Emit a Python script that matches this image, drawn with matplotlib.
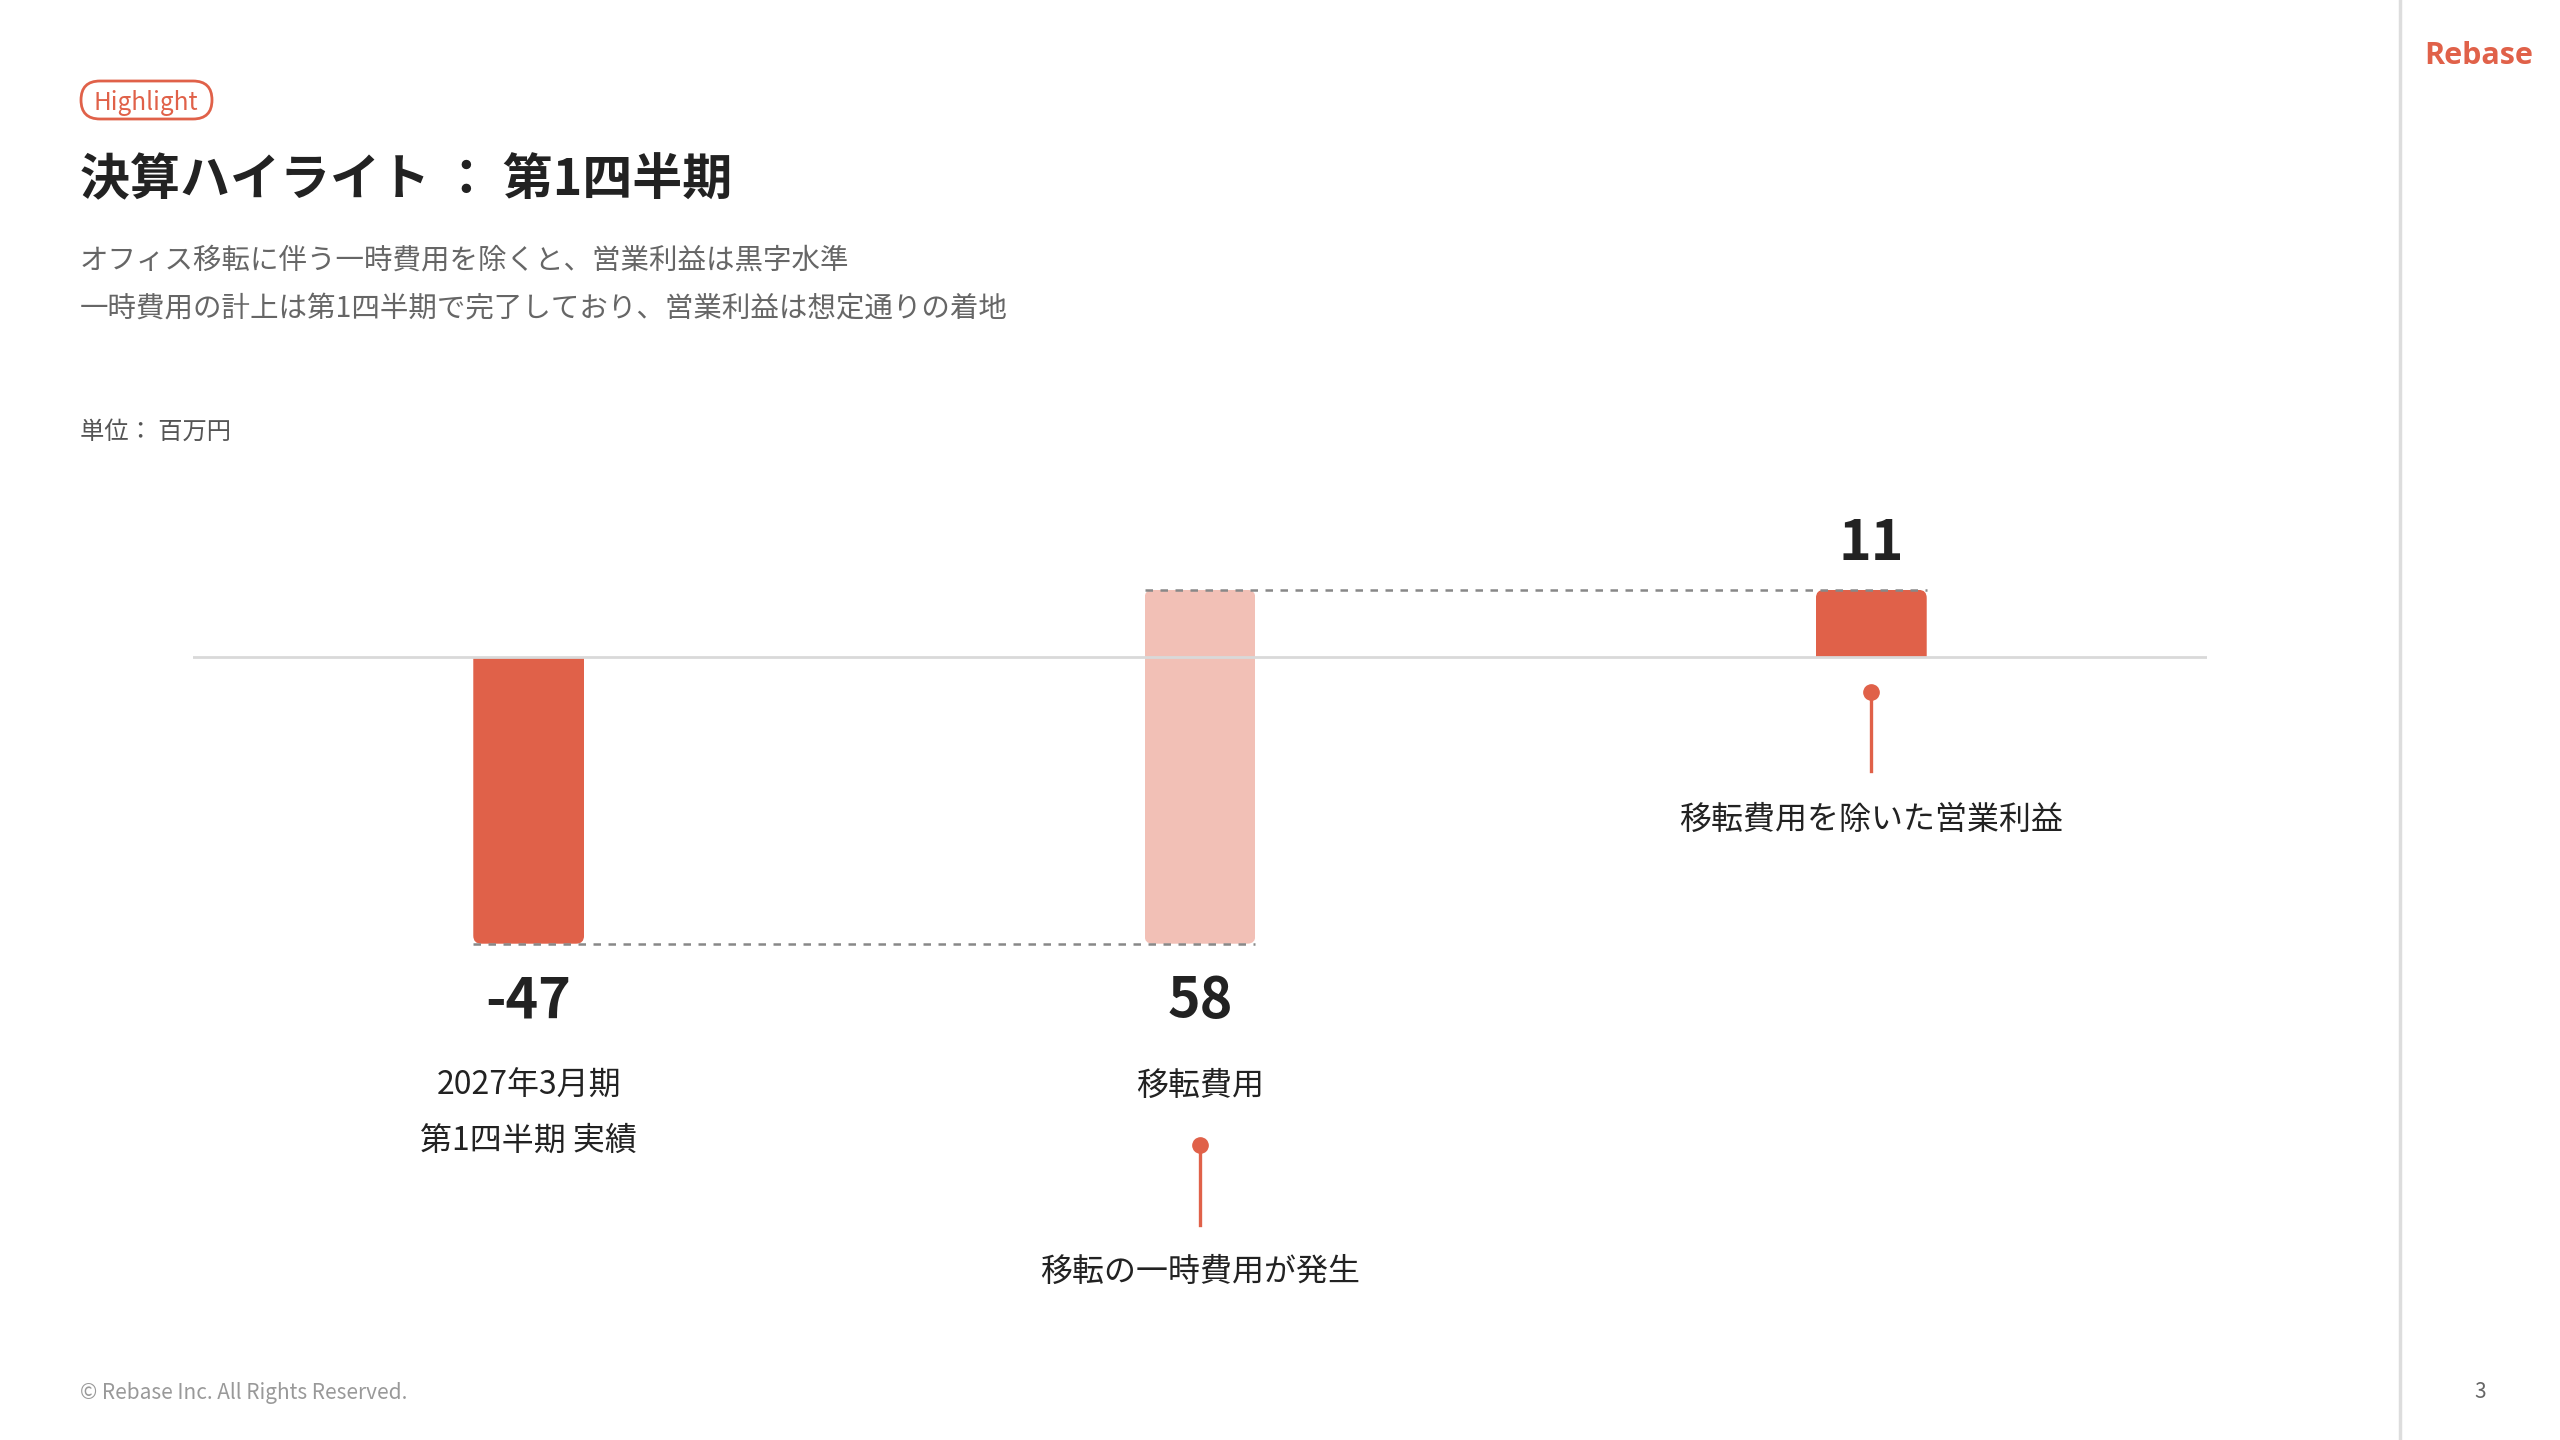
import matplotlib
matplotlib.use("Agg")
import matplotlib.pyplot as plt
from matplotlib.patches import FancyBboxPatch
from matplotlib.lines import Line2D
import matplotlib.transforms as mtransforms

plt.rcParams['font.family'] = ['Noto Sans CJK JP', 'DejaVu Sans']

# ---- data ----
categories = ["2027年3月期\n第1四半期 実績", "移転費用", "移転費用を除いた営業利益"]
values = [-47, 58, 11]
value_labels = ["-47", "58", "11"]
annotations = ["移転の一時費用が発生", "移転費用を除いた営業利益"]
title = "決算ハイライト ： 第1四半期"
subtitle_lines = ["オフィス移転に伴う一時費用を除くと、営業利益は黒字水準",
                  "一時費用の計上は第1四半期で完了しており、営業利益は想定通りの着地"]
unit_label = "単位： 百万円"

W, H = 2560, 1440
ORANGE = "#E06149"
LIGHT = "#F2C0B6"
DY = 5  # text baseline correction (px)
fig = plt.figure(figsize=(W / 100, H / 100), dpi=100)
fig.patch.set_facecolor("white")

def fx(x):
    return x / W

def fy(y):
    return 1 - (y + DY) / H

# ---- chart axes ----
zero_px = 657
scale = 6.1  # px per unit
ax_top, ax_bot = 400, 1000
ax_left, ax_right = 193, 2207
ax = fig.add_axes([fx(ax_left), 1 - ax_bot / H, fx(ax_right) - fx(ax_left), (ax_bot - ax_top) / H])
ax.set_xlim(-0.5, 2.5)
ax.set_ylim(-(ax_bot - zero_px) / scale, (zero_px - ax_top) / scale)
ax.axis("off")

x = [0, 1, 2]
bw = 0.165
bottoms = [0, values[0], 0]
heights = [values[0], values[1], values[0] + values[1]]
colors = [ORANGE, LIGHT, ORANGE]
flat_at_zero = [True, False, True]
bars = ax.bar(x, heights, bottom=bottoms, width=bw, color=colors, zorder=2, linewidth=0)

# rounded exposed ends (radius ~8 px); flat end at the zero line via clipping
px_per_x = (ax_right - ax_left) / 3.0
r_px = 8
ext = 3 * r_px / scale
for p, col, flat in zip(bars, colors, flat_at_zero):
    x0, y0, w, h = p.get_x(), p.get_y(), p.get_width(), p.get_height()
    ylo, yhi = min(y0, y0 + h), max(y0, y0 + h)
    if flat:
        if h < 0:
            yhi += ext
        else:
            ylo -= ext
    rb = FancyBboxPatch((x0, ylo), w, yhi - ylo,
                        boxstyle=f"round,pad=0,rounding_size={r_px / px_per_x}",
                        mutation_aspect=px_per_x / scale,
                        facecolor=col, edgecolor="none", linewidth=0, zorder=2)
    ax.add_patch(rb)
    rb.set_clip_path(p)
    p.set_visible(False)

ax.axhline(0, color="#d9d9d9", lw=2, zorder=3)
low = values[0]
high = values[0] + values[1]
ax.hlines(low, x[0] - bw / 2, x[1] + bw / 2, colors="#888888", lw=1.8,
          linestyles=(0, (3, 3)), zorder=4)
ax.hlines(high, x[1] - bw / 2, x[2] + bw / 2, colors="#888888", lw=1.8,
          linestyles=(0, (3, 3)), zorder=4)

trans = mtransforms.blended_transform_factory(ax.transData, fig.transFigure)

# value labels
ax.text(x[0], fy(996), value_labels[0], transform=trans, ha="center", va="center",
        fontsize=40, fontweight="bold", color="#222222")
ax.text(x[1], fy(996), value_labels[1], transform=trans, ha="center", va="center",
        fontsize=40, fontweight="bold", color="#222222")
ax.text(x[2], fy(539), value_labels[2], transform=trans, ha="center", va="center",
        fontsize=40, fontweight="bold", color="#222222")

# category labels
cat0 = categories[0].split("\n")
ax.text(x[0], fy(1081), cat0[0], transform=trans, ha="center", va="center",
        fontsize=23, color="#222222")
ax.text(x[0], fy(1136), cat0[1], transform=trans, ha="center", va="center",
        fontsize=23, color="#222222")
ax.text(x[1], fy(1081), categories[1], transform=trans, ha="center", va="center",
        fontsize=23, color="#222222")

# annotation pins
for xi, (y0, y1, yt, txt) in zip([x[1], x[2]],
                                 [(1145, 1225, 1267, annotations[0]),
                                  (692, 771, 815, annotations[1])]):
    ax.add_line(Line2D([xi, xi], [1 - y0 / H, 1 - y1 / H], transform=trans, color=ORANGE,
                       lw=2.4, clip_on=False))
    ax.add_line(Line2D([xi], [1 - y0 / H], transform=trans, marker="o", markersize=11,
                       color=ORANGE, clip_on=False))
    ax.text(xi, fy(yt), txt, transform=trans, ha="center", va="center",
            fontsize=23, color="#222222")

# ---- overlay in pixel units for header decorations ----
ov = fig.add_axes([0, 0, 1, 1], zorder=-1)
ov.set_xlim(0, W)
ov.set_ylim(H, 0)
ov.axis("off")
badge = FancyBboxPatch((81, 81), 131, 38,
                       boxstyle="round,pad=0,rounding_size=19",
                       facecolor="white", edgecolor=ORANGE, lw=2)
ov.add_patch(badge)
ov.plot([2400, 2400], [0, H], color="#dddddd", lw=2.5)

fig.text(fx(146), fy(98), "Highlight", ha="center", va="center", fontsize=17.5, color=ORANGE)

fig.text(fx(80), fy(176), title, ha="left", va="center", fontsize=36,
         fontweight="bold", color="#222222")
fig.text(fx(80), fy(256), subtitle_lines[0], ha="left", va="center", fontsize=20.5,
         color="#666666")
fig.text(fx(80), fy(304), subtitle_lines[1], ha="left", va="center", fontsize=20.5,
         color="#666666")
fig.text(fx(80), fy(427), unit_label, ha="left", va="center", fontsize=17.5, color="#555555")

# ---- right rail / footer ----
fig.text(fx(2479), fy(51), "Rebase", ha="center", va="center", fontsize=22,
         fontweight="bold", color=ORANGE, family=["Open Sans", "DejaVu Sans"])
fig.text(fx(2480), fy(1387), "3", ha="center", va="center", fontsize=15, color="#666666")
fig.text(fx(80), fy(1388), "© Rebase Inc. All Rights Reserved.", ha="left", va="center",
         fontsize=15, color="#999999")

fig.savefig("out.png", dpi=100, facecolor="white")
